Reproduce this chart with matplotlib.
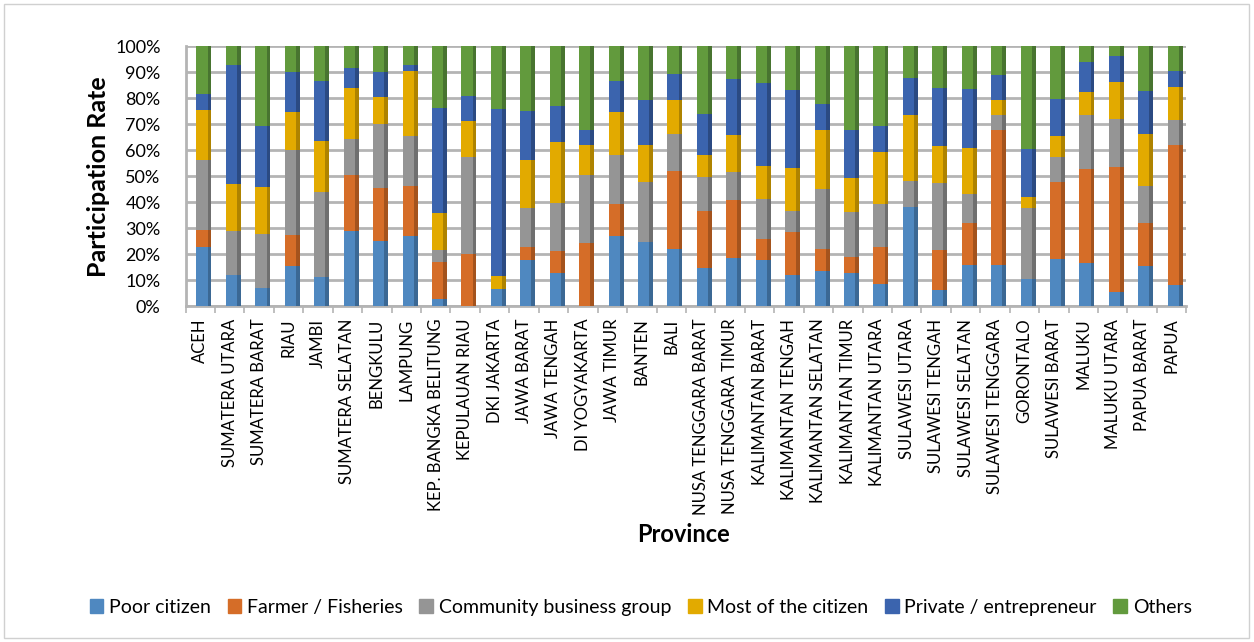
import matplotlib.pyplot as plt
import matplotlib.patches as mpatches
import numpy as np

provinces = ["ACEH", "SUMATERA UTARA", "SUMATERA BARAT", "RIAU", "JAMBI",
             "SUMATERA SELATAN", "BENGKULU", "LAMPUNG", "KEP. BANGKA BELITUNG",
             "KEPULAUAN RIAU", "DKI JAKARTA", "JAWA BARAT", "JAWA TENGAH",
             "DI YOGYAKARTA", "JAWA TIMUR", "BANTEN", "BALI",
             "NUSA TENGGARA BARAT", "NUSA TENGGARA TIMUR", "KALIMANTAN BARAT",
             "KALIMANTAN TENGAH", "KALIMANTAN SELATAN", "KALIMANTAN TIMUR",
             "KALIMANTAN UTARA", "SULAWESI UTARA", "SULAWESI TENGAH",
             "SULAWESI SELATAN", "SULAWESI TENGGARA", "GORONTALO",
             "SULAWESI BARAT", "MALUKU", "MALUKU UTARA", "PAPUA BARAT", "PAPUA"]

series = ["Poor citizen", "Farmer / Fisheries", "Community business group",
          "Most of the citizen", "Private / entrepreneur", "Others"]

# shares in % per province
poor = [22.8, 12.2, 7.0, 15.4, 11.3, 29.1, 25.0, 26.9, 2.8, 0.0, 6.7, 17.6,
        12.6, 0.0, 27.2, 24.6, 22.2, 14.7, 18.6, 17.6, 11.9, 13.7, 12.8, 8.6,
        38.2, 6.2, 16.0, 16.0, 10.3, 18.0, 16.7, 5.4, 15.3, 8.3]
farmer = [6.7, 0.0, 0.0, 11.9, 0.0, 21.5, 20.5, 19.3, 14.1, 19.9, 0.0, 5.2,
          8.8, 24.4, 12.2, 0.0, 30.0, 21.8, 22.4, 8.3, 16.6, 8.5, 6.3, 14.2,
          0.0, 15.3, 16.0, 51.6, 0.0, 29.8, 36.1, 48.2, 16.7, 53.7]
community = [26.9, 16.6, 20.8, 32.6, 32.7, 13.9, 24.4, 19.2, 4.9, 37.4, 0.0,
             15.0, 18.3, 26.2, 18.7, 23.1, 14.1, 13.1, 10.7, 15.4, 8.3, 22.7,
             17.2, 16.7, 10.1, 25.9, 11.3, 5.9, 27.5, 9.5, 20.9, 18.6, 14.2, 9.8]
most = [18.9, 18.2, 18.0, 14.7, 19.5, 19.5, 10.5, 25.2, 14.1, 14.1, 5.1, 18.6,
        23.5, 11.6, 16.6, 14.5, 13.2, 8.7, 14.3, 12.8, 16.4, 22.8, 13.1, 19.9,
        25.4, 14.4, 17.7, 5.7, 4.1, 8.1, 8.7, 14.1, 20.2, 12.4]
private = [6.4, 45.6, 23.7, 15.4, 23.0, 7.7, 9.7, 2.0, 40.4, 9.6, 64.2, 18.6,
           14.0, 5.5, 12.1, 17.3, 9.9, 15.7, 21.4, 31.8, 29.8, 10.1, 18.2, 10.1,
           13.9, 22.2, 22.7, 9.8, 18.4, 14.3, 11.4, 10.1, 16.3, 6.4]
others = [18.3, 7.4, 30.5, 10.0, 13.5, 8.3, 9.9, 7.4, 23.7, 19.0, 24.0, 25.0,
          22.8, 32.3, 13.2, 20.5, 10.6, 26.0, 12.6, 14.1, 17.0, 22.2, 32.4, 30.5,
          12.4, 16.0, 16.3, 11.0, 39.7, 20.3, 6.2, 3.6, 17.3, 9.4]

values = [poor, farmer, community, most, private, others]
front_colors = ["#4f88c0", "#d56d28", "#959595", "#e2aa00", "#3b64ae", "#629a3d"]
side_colors = ["#3b6894", "#a4531d", "#6f6f6f", "#ae8300", "#2b4a82", "#487430"]

fig = plt.figure(figsize=(12.54, 6.42), dpi=100)
plt.rcParams['font.family'] = ['Lato', 'DejaVu Sans']
ax = fig.add_axes([0.148, 0.523, 0.798, 0.405])

x = np.arange(len(provinces))
data = np.array(values, dtype=float)
data = data / data.sum(axis=0) * 100

bottom = np.zeros(len(provinces))
for vals, fc, sc, name in zip(data, front_colors, side_colors, series):
    ax.bar(x - 0.13, vals, width=0.38, bottom=bottom, color=fc, align='edge',
           label=name, zorder=3)
    ax.bar(x + 0.25, vals, width=0.13, bottom=bottom, color=sc, align='edge',
           zorder=3)
    bottom += vals

ax.set_xlim(-0.5, len(provinces) - 0.5)
ax.set_ylim(0, 100)
ax.set_yticks(np.arange(0, 101, 10))
ax.set_yticklabels([f"{v}%" for v in range(0, 101, 10)], fontsize=13)
ax.yaxis.grid(True, color="#b4b4b4", linewidth=2, zorder=0)
ax.set_xticks(x)
ax.set_xticklabels(provinces, rotation=90, fontsize=12)
ax.set_xticks(np.arange(-0.5, len(provinces), 1), minor=True)
ax.tick_params(axis='x', which='major', length=0, pad=9)
ax.tick_params(axis='x', which='minor', length=5, color="#b4b4b4", width=1.2)
ax.tick_params(axis='y', length=0, pad=18)
for side in ["top", "right"]:
    ax.spines[side].set_visible(False)
ax.spines["left"].set_color("#b4b4b4")
ax.spines["left"].set_linewidth(2)
ax.spines["bottom"].set_color("#b4b4b4")
ax.spines["bottom"].set_linewidth(2)

ax.set_ylabel("Participation Rate", fontsize=18, fontweight='bold', labelpad=4)
fig.text(0.545, 0.167, "Province", fontsize=17, fontweight='bold', ha='center', va='center')

handles = [mpatches.Patch(color=c) for c in front_colors]
fig.legend(handles, series, loc='center', bbox_to_anchor=(0.511, 0.054), ncol=6,
           frameon=False, fontsize=14, handlelength=0.7, handleheight=0.7,
           handletextpad=0.3, columnspacing=0.85)

fig.patches.append(mpatches.Rectangle((0.003, 0.006), 0.993, 0.988, transform=fig.transFigure,
                                      fill=False, edgecolor="#d0d0d0", linewidth=1))

fig.savefig("out.png", dpi=100)
